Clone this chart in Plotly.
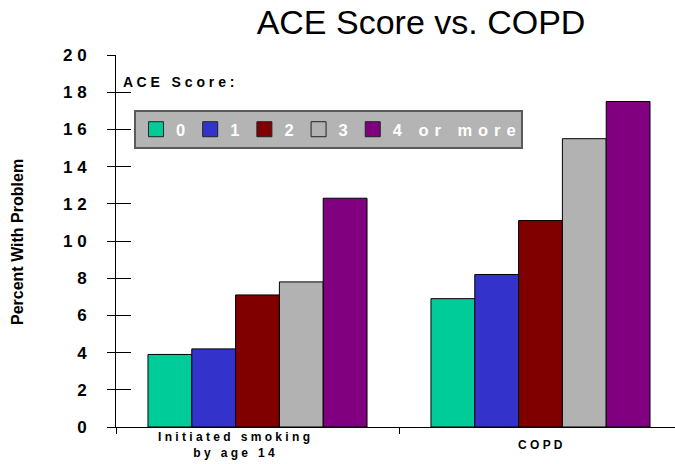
import plotly.graph_objects as go

categories = ["Initiated smoking by age 14", "COPD"]
category_lines = [["Initiated smoking", "by age 14"], ["COPD"]]
series_names = ["0", "1", "2", "3", "4 or more"]
series_values = [
    [3.9, 6.9],
    [4.2, 8.2],
    [7.1, 11.1],
    [7.8, 15.5],
    [12.3, 17.5],
]
series_colors = ["#00CC99", "#3333CC", "#800000", "#B2B2B2", "#800080"]
y_tickvals = [0, 2, 4, 6, 8, 10, 12, 14, 16, 18, 20]
title_text = "ACE Score vs. COPD"
y_title = "Percent With Problem"
legend_title = "ACE Score:"


def spaced(s, gap=" "):
    out = []
    for ch in s:
        out.append("\u00a0" if ch == " " else ch)
    return gap.join(out)


fig = go.Figure()
for name, vals, col in zip(series_names, series_values, series_colors):
    fig.add_trace(go.Bar(
        x=categories, y=vals, name=name, showlegend=False,
        marker=dict(color=col, line=dict(color="black", width=1)),
    ))
# legend entries (one per series, no visible data)
for name, col in zip(series_names, series_colors):
    fig.add_trace(go.Scatter(
        x=[categories[0]], y=[None], name=spaced(name, " \u200a"), mode="markers",
        marker=dict(symbol="square", size=15, color=col, line=dict(color="#222222", width=1)),
        hoverinfo="skip",
    ))

W, H = 675, 464
L, R, T, B = 116, 0, 55, 37
plot_w = W - L - R
plot_h = H - T - B
cat_px = 283.0
x_end = -0.5 + plot_w / cat_px

fig.update_layout(
    width=W, height=H,
    margin=dict(l=L, r=R, t=T, b=B, autoexpand=False),
    paper_bgcolor="white", plot_bgcolor="white",
    barmode="group", bargap=0.226, bargroupgap=0,
    font=dict(family="Liberation Sans, Arial, sans-serif", color="black"),
    title=dict(text=title_text, x=421 / W, xanchor="center", y=1 - 22 / H, yanchor="middle",
               font=dict(size=34, color="black")),
    showlegend=True,
    legend=dict(orientation="h", x=(134 - L) / plot_w, xanchor="left",
                y=(427 - 110) / plot_h, yanchor="top",
                bgcolor="#B4B4B4", bordercolor="#5A5A5A", borderwidth=2,
                font=dict(size=16.5, color="white", family="Liberation Sans, Arial, sans-serif", weight="bold"),
                itemwidth=30, traceorder="normal"),
    xaxis=dict(
        type="category", range=[-0.5, x_end],
        tickson="boundaries", ticks="outside", ticklen=6, tickcolor="black",
        showticklabels=False,
        showline=True, linecolor="black", linewidth=1, showgrid=False,
    ),
    yaxis=dict(
        range=[0, 20], tickmode="array", tickvals=y_tickvals,
        ticktext=[spaced(str(v)) for v in y_tickvals],
        ticks="outside", ticklen=8, tickcolor="black", ticklabelstandoff=17,
        showline=True, linecolor="black", linewidth=1, showgrid=False, zeroline=False,
        tickfont=dict(size=17, weight="bold"),
    ),
    yaxis2=dict(
        range=[0, 20], tickmode="array", tickvals=y_tickvals, overlaying="y", side="left",
        ticks="inside", ticklen=15, tickcolor="black", showticklabels=False,
        showline=False, showgrid=False, zeroline=False, anchor="x",
    ),
)
fig.add_trace(go.Scatter(x=[categories[0]], y=[None], yaxis="y2", mode="markers",
                         showlegend=False, hoverinfo="skip"))

# y axis title
fig.add_annotation(text=y_title, xref="paper", yref="paper",
                   x=(17 - L) / plot_w, y=(427 - 242) / plot_h, textangle=-90,
                   xanchor="center", yanchor="middle", showarrow=False,
                   font=dict(size=16, weight="bold", color="black"))

# category labels
label_shift = [-24, 0]
for cat, lines, dx in zip(categories, category_lines, label_shift):
    fig.add_annotation(text="<br>".join(spaced(l) for l in lines), x=cat, xref="x",
                       yref="paper", y=-(445 - 427) / plot_h, yanchor="middle", xshift=dx,
                       showarrow=False, align="center",
                       font=dict(size=12, weight="bold", color="black"))

fig.add_annotation(text=spaced(legend_title), xref="paper", yref="paper",
                   x=(121 - L) / plot_w, y=(427 - 82) / plot_h, xanchor="left", yanchor="middle",
                   showarrow=False, font=dict(size=14, weight="bold", color="black"))

fig.write_html("out.html", config={"displayModeBar": False},
               post_script="document.body.style.margin='0px';document.body.style.overflow='hidden';")
